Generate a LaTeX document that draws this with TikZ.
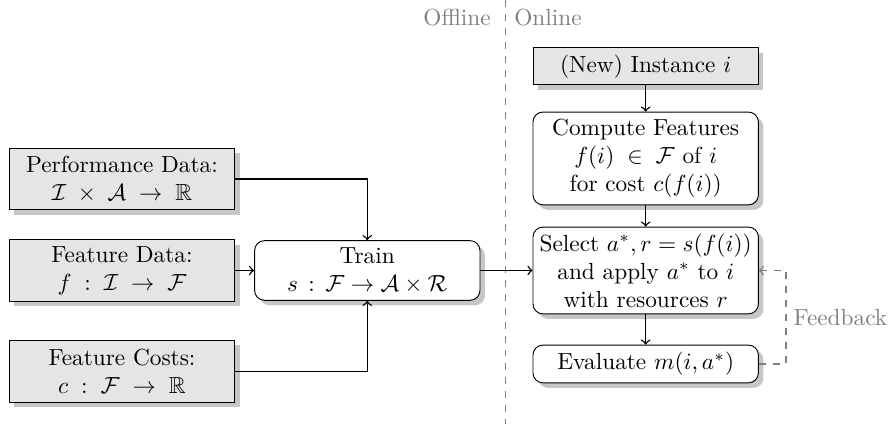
\documentclass[tikz,border=0pt]{standalone}
\usepackage{amsmath,amssymb}
\usepackage{tikz}
\usetikzlibrary{calc,positioning,shadows}
\definecolor{boxgray}{RGB}{229,229,229}
\tikzset{%
  datablock/.style = { draw, fill=boxgray, align=center, minimum width=3.4cm, minimum height=0.93cm, inner sep=2pt, drop shadow={opacity=0.45} },
  stepblock/.style = { draw, fill=white, rounded corners=1.5mm, align=center, minimum width=3.4cm, inner sep=2pt, drop shadow={opacity=0.45} },
  flow/.style = { semithick, ->, >=to },
  feedback/.style = { gray, dashed, semithick, ->, >=to },
  phase/.style = { gray, inner sep=2pt }
}

\begin{document}
\begin{tikzpicture}

  \useasboundingbox (0,0) rectangle (13.41,-6.455);

  % Offline / Online split
  \coordinate (splittop) at (7.63,0);
  \coordinate (splitbot) at (7.63,-6.4);
  \draw[gray,dashed] (splittop) -- (splitbot);
  \node[phase,anchor=east] (offline) at (7.48,-0.27) {Offline};
  \node[phase,anchor=west] (online) at (7.68,-0.27) {Online};

  % Offline inputs
  \node[datablock] (perf) at (1.84,-2.70) {Performance Data:\\ $\mathcal{I} \;\times\; \mathcal{A} \;\rightarrow\; \mathbb{R}$};
  \node[datablock] (featdata) at (1.84,-4.08) {Feature Data:\\ $f \;:\; \mathcal{I} \;\rightarrow\; \mathcal{F}$};
  \node[datablock] (featcost) at (1.84,-5.60) {Feature Costs:\\ $c \;:\; \mathcal{F} \;\rightarrow\; \mathbb{R}$};

  \node[stepblock,minimum height=0.9cm] (train) at (5.54,-4.08) {Train\\ $s \,:\, \mathcal{F} \rightarrow \mathcal{A} \times \mathcal{R}$};

  % Online steps
  \node[datablock,minimum height=0.56cm] (inst) at (9.74,-1.00) {(New) Instance $i$};
  \node[stepblock,minimum height=1.40cm] (compute) at (9.74,-2.39) {Compute Features\\ $f(i) \;\in\; \mathcal{F}$ of $i$\\ for cost $c(f(i))$};
  \node[stepblock,minimum height=1.31cm] (select) at (9.74,-4.08) {Select $a^{*}, r = s(f(i))$\\ and apply $a^{*}$ to $i$\\ with resources $r$};
  \node[stepblock,minimum height=0.57cm] (eval) at (9.74,-5.49) {Evaluate $m(i,a^{*})$};

  % Connections
  \draw[flow] (perf.east) -| (train.north);
  \draw[flow] (featdata.east) -- (train.west);
  \draw[flow] (featcost.east) -| (train.south);
  \draw[flow] (train.east) -- (select.west);

  \draw[flow] (inst.south) -- (compute.north);
  \draw[flow] (compute.south) -- (select.north);
  \draw[flow] (select.south) -- (eval.north);

  \draw[feedback] (eval.east) -- ++(0.41,0) |- (select.east) node[pos=0.25,right,inner sep=3pt] {Feedback};

\end{tikzpicture}
\end{document}
